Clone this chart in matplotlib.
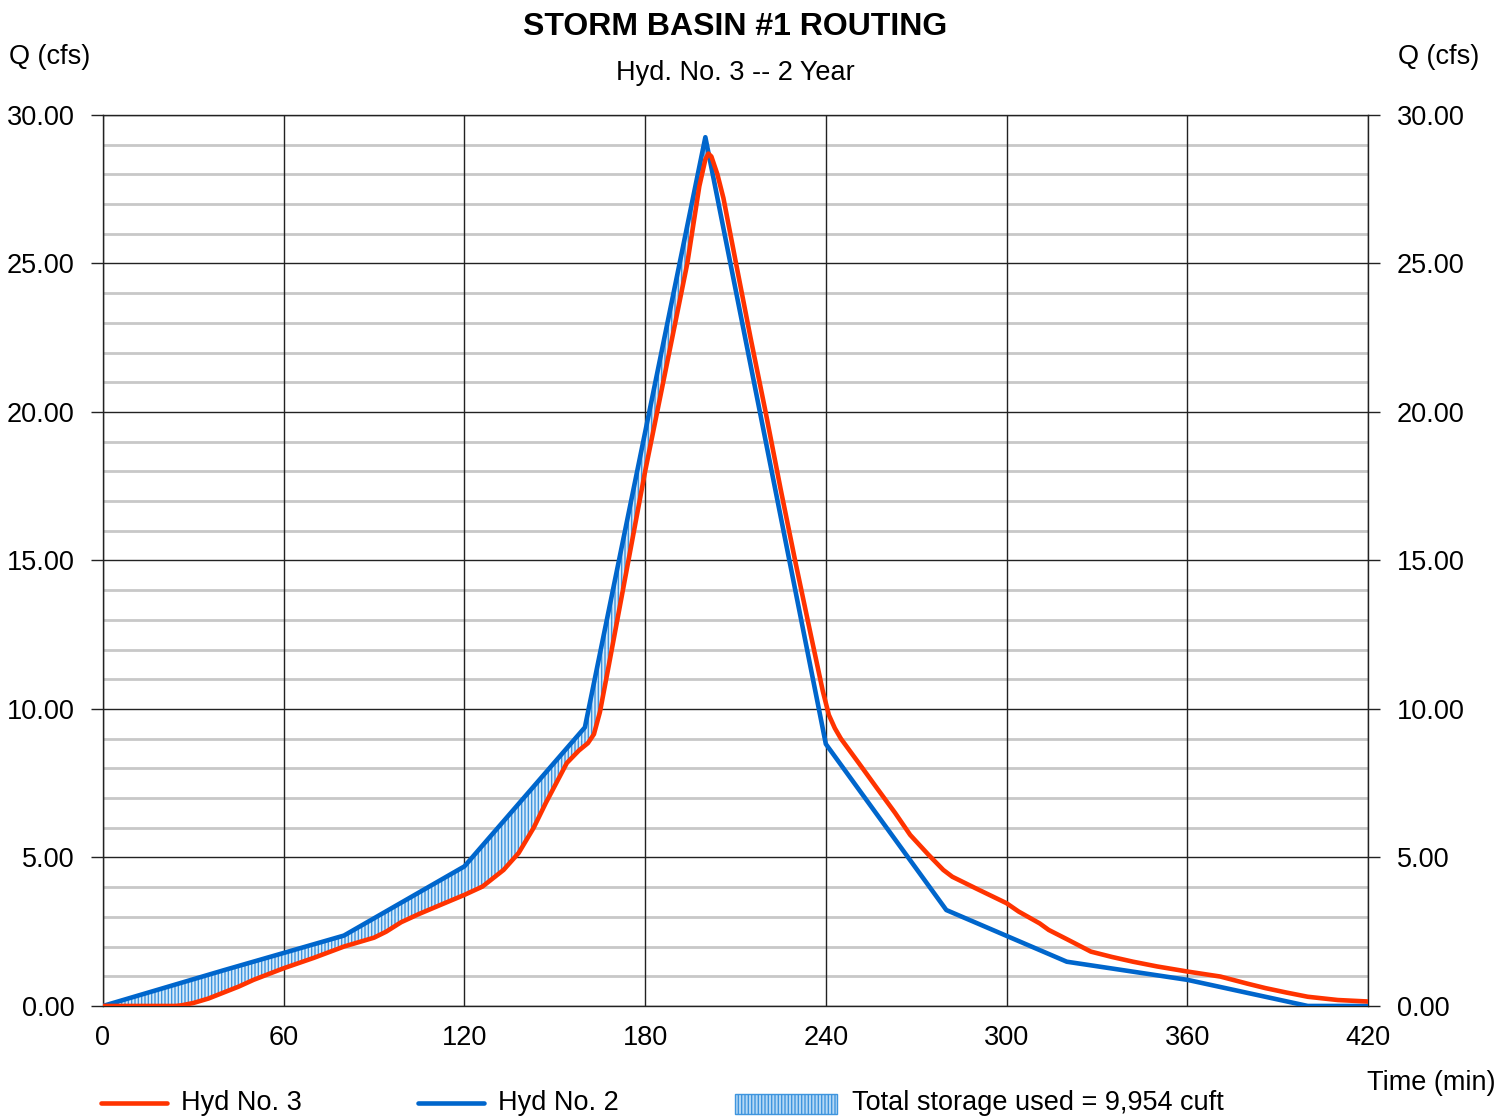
import matplotlib.pyplot as plt
from matplotlib.lines import Line2D
from matplotlib.patches import Rectangle
import numpy as np

plt.rcParams['font.family'] = ['Liberation Sans', 'DejaVu Sans']
plt.rcParams['hatch.linewidth'] = 1.0

# Hyd No. 2 (inflow), piecewise linear
t_in = [0, 40, 80, 120, 160, 200, 240, 280, 320, 360, 400, 420]
q_in = [0, 1.2, 2.37, 4.7, 9.38, 29.25, 8.82, 3.23, 1.49, 0.88, 0, 0]

# Hyd No. 3 (routed outflow)
t_out = [0, 24, 26, 30, 35, 40, 45, 50, 60, 70, 80, 90, 94, 99, 105, 112, 120,
         126, 133, 138, 143, 147, 154, 158, 161, 163, 165, 168, 180, 194, 198,
         200, 201, 202, 204, 206, 210, 215, 220, 225, 230, 235, 239, 241, 243,
         245, 251, 257, 263, 268, 274, 279, 282, 290, 300, 304, 311, 314, 320,
         328, 335, 342, 350, 360, 371, 380, 386, 393, 400, 410, 420]
q_out = [0, 0, 0.02, 0.1, 0.25, 0.45, 0.65, 0.88, 1.27, 1.62, 2.0, 2.3, 2.5,
         2.82, 3.1, 3.4, 3.74, 4.02, 4.58, 5.15, 6.0, 6.83, 8.18, 8.6, 8.85,
         9.15, 9.9, 11.5, 18.0, 25.0, 27.6, 28.5, 28.7, 28.6, 28.0, 27.2, 25.1,
         22.5, 20.0, 17.4, 14.9, 12.5, 10.6, 9.8, 9.35, 9.0, 8.17, 7.33, 6.5,
         5.76, 5.1, 4.58, 4.35, 3.95, 3.46, 3.18, 2.78, 2.56, 2.25, 1.83, 1.65,
         1.49, 1.33, 1.16, 0.99, 0.75, 0.6, 0.45, 0.31, 0.2, 0.15]

x_ticks = [0, 60, 120, 180, 240, 300, 360, 420]
y_ticks = [0, 5, 10, 15, 20, 25, 30]
storage_label = "Total storage used = 9,954 cuft"

RED = '#ff3300'
BLUE = '#0066cc'
HATCH = '#3f95de'
FS = 19.5

fig = plt.figure(figsize=(14.97, 11.16), dpi=100)
ax = fig.add_axes([0.0688, 0.0986, 0.845, 0.7984])

# minor gray grid (every 1 cfs)
for q in np.arange(1, 30):
    if q % 5:
        ax.axhline(q, color='#c8c8c8', lw=2.0, zorder=0)
for q in y_ticks:
    ax.axhline(q, color='#222222', lw=1.0, zorder=1)
for t in x_ticks:
    ax.axvline(t, color='#222222', lw=1.0, zorder=1)

# storage area (inflow above outflow)
tt = np.linspace(0, 420, 2101)
qi = np.interp(tt, t_in, q_in)
qo = np.interp(tt, t_out, q_out)
ax.fill_between(tt, qo, qi, where=qi > qo, interpolate=True,
                facecolor='#d6eafa', edgecolor=HATCH, hatch='|||||', lw=0, zorder=2)

ax.plot(t_out, q_out, color=RED, lw=3.3, zorder=4, solid_capstyle='round',
        solid_joinstyle='round')
ax.plot(t_in, q_in, color=BLUE, lw=3.3, zorder=3, solid_capstyle='round')

ax.set_xlim(0, 420)
ax.set_ylim(0, 30)
ax.set_xticks(x_ticks)
ax.set_yticks(y_ticks)
ax.set_yticklabels([f"{v:.2f}" for v in y_ticks])
ax.tick_params(axis='x', length=0, pad=14, labelsize=FS)
ax.tick_params(axis='y', direction='out', length=8.6, width=1.0, color='#222222',
               labelsize=FS, pad=12, left=True, right=True, labelleft=True, labelright=True)
for s in ax.spines.values():
    s.set_color('#222222')
    s.set_linewidth(1.0)

fig.text(0.4913, 0.976, "STORM BASIN #1 ROUTING", ha='center', va='center',
         fontsize=23, fontweight='bold')
fig.text(0.4913, 0.935, "Hyd. No. 3 -- 2 Year", ha='center', va='center', fontsize=FS)
fig.text(0.006, 0.949, "Q (cfs)", ha='left', va='center', fontsize=FS)
fig.text(0.988, 0.949, "Q (cfs)", ha='right', va='center', fontsize=FS)
fig.text(0.999, 0.030, "Time (min)", ha='right', va='center', fontsize=FS)

# legend row
ly = 0.0115
fig.add_artist(Line2D([0.0675, 0.1115], [ly, ly], color=RED, lw=3.3,
                      solid_capstyle='round', transform=fig.transFigure))
fig.text(0.121, ly, "Hyd No. 3", ha='left', va='center', fontsize=FS)
fig.add_artist(Line2D([0.2792, 0.3233], [ly, ly], color=BLUE, lw=3.3,
                      solid_capstyle='round', transform=fig.transFigure))
fig.text(0.3327, ly, "Hyd No. 2", ha='left', va='center', fontsize=FS)
fig.add_artist(Rectangle((0.491, 0.002), 0.068, 0.0175, transform=fig.transFigure,
                         facecolor='#b5d8f5', edgecolor=HATCH, hatch='|||||', lw=1.0))
fig.text(0.569, ly, storage_label, ha='left', va='center', fontsize=FS)

fig.savefig('out.png', dpi=100)
